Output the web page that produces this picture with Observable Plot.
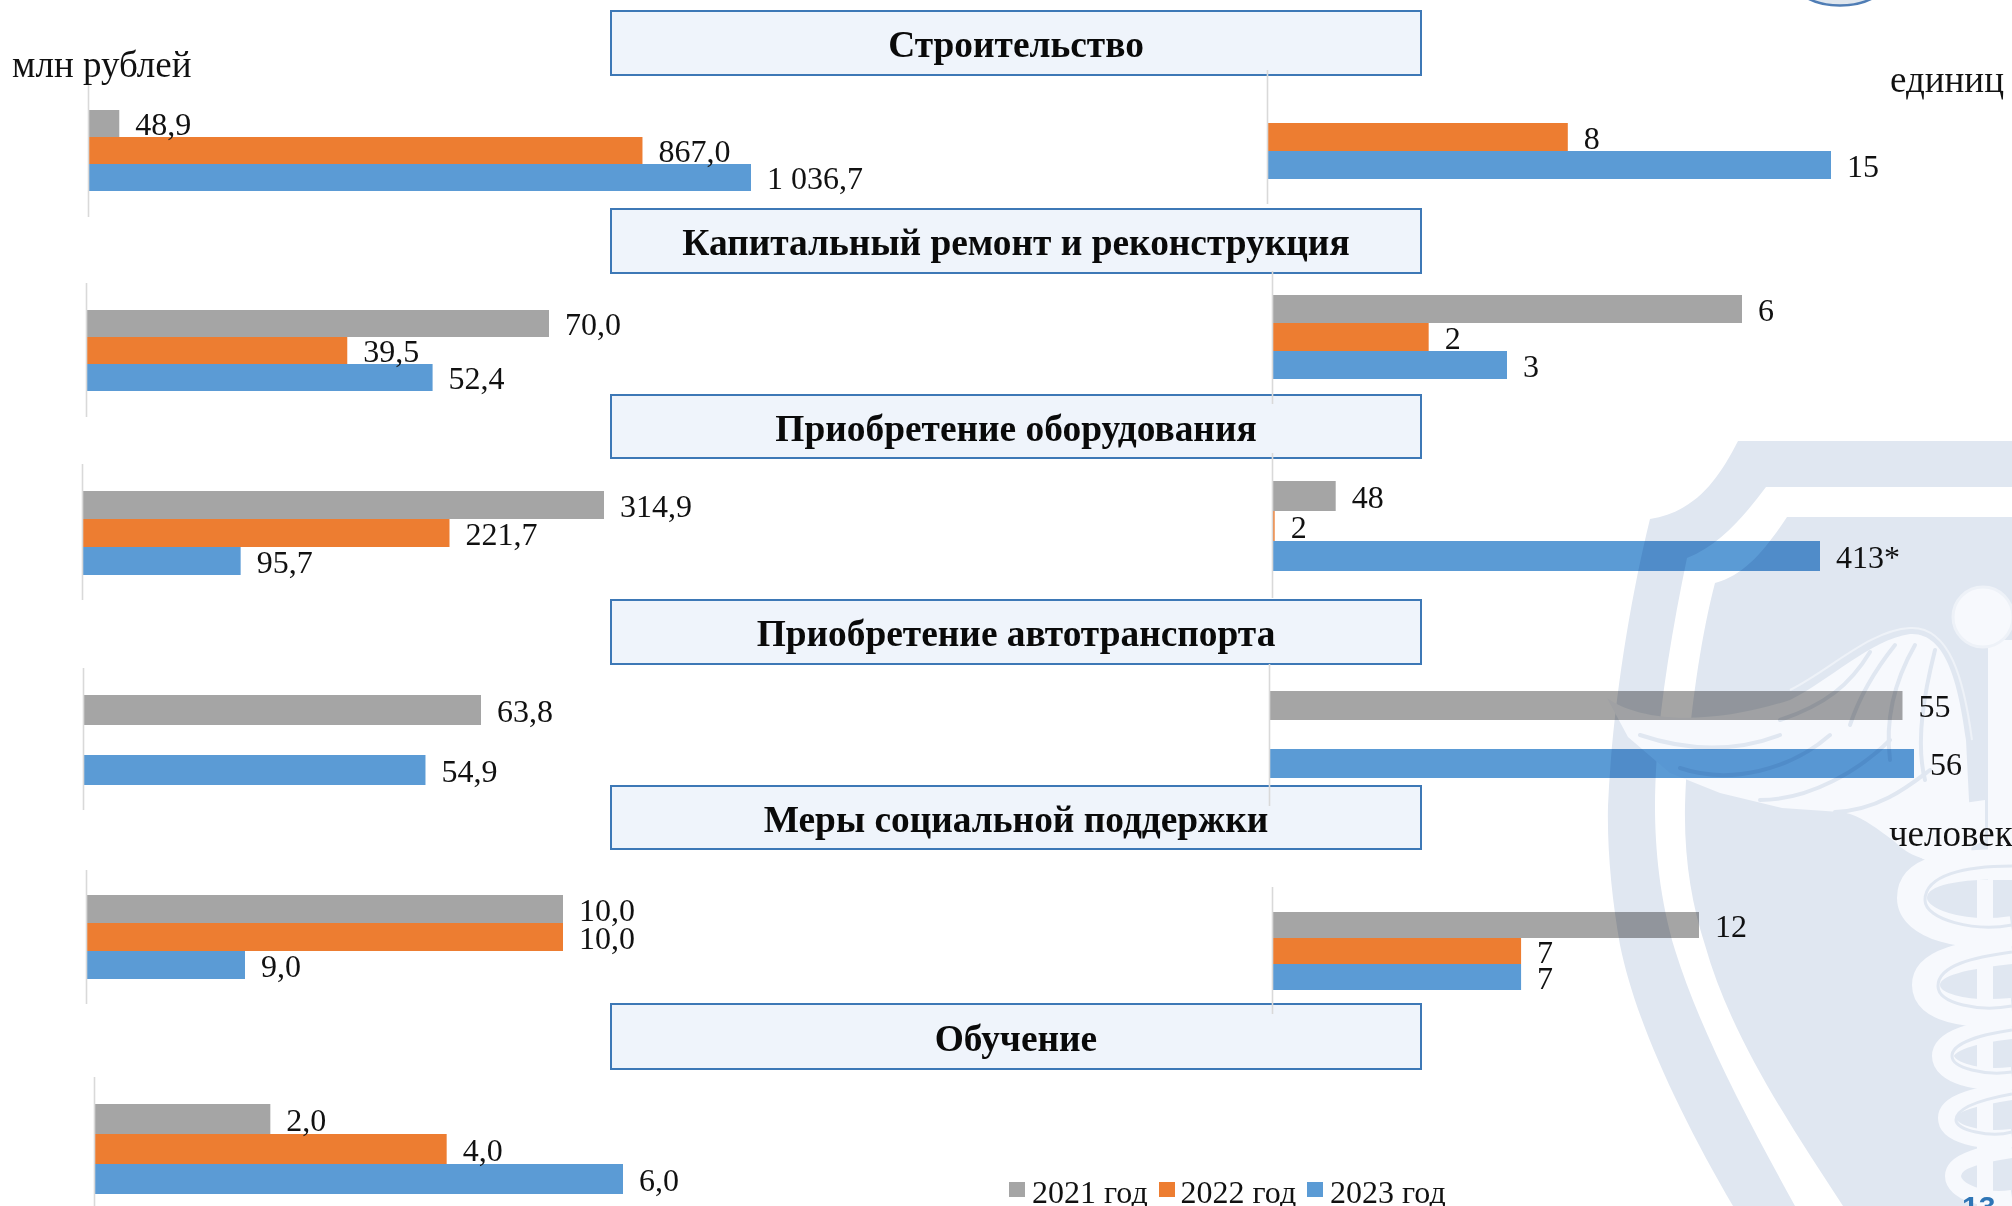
<!DOCTYPE html>
<html lang="ru">
<head>
<meta charset="utf-8">
<title>Инвестиции</title>
<script src="https://cdn.jsdelivr.net/npm/d3@7"></script>
<script src="https://cdn.jsdelivr.net/npm/@observablehq/plot@0.6"></script>
<style>
  html, body { margin: 0; padding: 0; background: #fff; }
  #page { position: relative; width: 2012px; height: 1206px; overflow: hidden; background: #fff;
          font-family: "Liberation Serif", serif; color: #111; }
  .box { position: absolute; left: 610px; width: 812px; box-sizing: border-box; background: #eff4fb;
         border: 2px solid #3d78b6; display: flex; align-items: center; justify-content: center;
         font-weight: 700; font-size: 37.4px; padding-top: 3px; white-space: nowrap; color: #0a0a0a; }
  .unit { position: absolute; font-size: 37px; line-height: 40px; white-space: nowrap; }
  .panel { position: absolute; }
  .legend { position: absolute; top: 1172px; left: 1009px; height: 40px; font-size: 32px; line-height: 40px; }
  .legend span { position: absolute; white-space: nowrap; top: 0; }
  .legend i { position: absolute; top: 10px; width: 16px; height: 15px; }
  #mark { position: absolute; left: 0; top: 0; mix-blend-mode: multiply; pointer-events: none; }
</style>
</head>
<body>
<div id="page"></div>
<script>
const categories = ["Строительство", "Капитальный ремонт и реконструкция", "Приобретение оборудования",
                    "Приобретение автотранспорта", "Меры социальной поддержки", "Обучение"];
const years = ["2021 год", "2022 год", "2023 год"];
const yearColors = ["#a5a5a5", "#ed7d31", "#5b9bd5"];

// млн рублей
const rublesStroitelstvo = [48.9, 867.0, 1036.7];
const rublesRemont = [70.0, 39.5, 52.4];
const rublesOborudovanie = [314.9, 221.7, 95.7];
const rublesAvto = [63.8, null, 54.9];
const rublesPodderzhka = [10.0, 10.0, 9.0];
const rublesObuchenie = [2.0, 4.0, 6.0];

// единиц / человек
const unitsStroitelstvo = [null, 8, 15];
const unitsRemont = [6, 2, 3];
const unitsOborudovanie = [48, 2, 413];
const unitsAvto = [55, null, 56];
const unitsPodderzhka = [12, 7, 7];

const footnoted = [413];

// layout of the small charts on the page (not data)
const boxes = [[10, 76], [208, 274], [394, 459], [599, 665], [785, 850], [1003, 1070]];
const leftPanels = [
  {values: rublesStroitelstvo, base: 88, axis: [85, 217], bars: [109, 192], length: 663, start: 0},
  {values: rublesRemont, base: 86, axis: [283, 417], bars: [309, 392], length: 463, start: 0},
  {values: rublesOborudovanie, base: 82, axis: [464, 600], bars: [490, 576], length: 522, start: 0},
  {values: rublesAvto, base: 83, axis: [668, 810], bars: [695, 785], length: 398, start: 0},
  {values: rublesPodderzhka, base: 86, axis: [870, 1004], bars: [895, 979], length: 477, start: 8.5},
  {values: rublesObuchenie, base: 94, axis: [1077, 1206], bars: [1104, 1194], length: 529, start: 0}
];
const rightPanels = [
  {values: unitsStroitelstvo, base: 1267, axis: [70, 204], bars: [95, 179], length: 564, start: 0},
  {values: unitsRemont, base: 1272, axis: [271, 404], bars: [295, 379], length: 470, start: 0},
  {values: unitsOborudovanie, base: 1272, axis: [453, 598], bars: [480, 571], length: 548, start: 0},
  {values: unitsAvto, base: 1269, axis: [664, 806], bars: [690, 779], length: 645, start: 0},
  {values: unitsPodderzhka, base: 1272, axis: [887, 1014], bars: [911, 990], length: 427, start: 0}
];

const page = document.getElementById("page");

categories.forEach((name, i) => {
  const d = document.createElement("div");
  d.className = "box";
  d.style.top = boxes[i][0] + "px";
  d.style.height = (boxes[i][1] - boxes[i][0]) + "px";
  d.textContent = name;
  page.appendChild(d);
});

const fmtRub = v => d3.format(",.1f")(v).replace(/,/g, " ").replace(".", ",");
const fmtUnit = v => String(v) + (footnoted.includes(v) ? "*" : "");

function panel(cfg, fmt) {
  const rows = years.map((year, i) => ({year, value: cfg.values[i]})).filter(r => r.value != null);
  const max = d3.max(rows, r => r.value);
  const room = 170, left = 2;
  const chart = Plot.plot({
    width: left + cfg.length + room,
    height: cfg.axis[1] - cfg.axis[0],
    margin: 0,
    style: {background: "transparent", overflow: "visible", fontFamily: '"Liberation Serif", serif', color: "#111"},
    x: {domain: [cfg.start, max], range: [left, left + cfg.length], axis: null},
    y: {domain: years, range: [cfg.bars[0] - cfg.axis[0], cfg.bars[1] - cfg.axis[0]], padding: 0, axis: null},
    color: {domain: years, range: yearColors},
    marks: [
      Plot.barX(rows, {x1: cfg.start, x2: "value", y: "year", fill: "year"}),
      Plot.ruleX([cfg.start], {stroke: "#d9d9d9", strokeWidth: 1.6}),
      Plot.text(rows, {x: "value", y: "year", text: r => fmt(r.value), textAnchor: "start", dx: 15.5, dy: 1, fontSize: 32, fill: "#111"})
    ]
  });
  chart.classList.add("panel");
  chart.style.left = (cfg.base - left) + "px";
  chart.style.top = cfg.axis[0] + "px";
  chart.style.maxWidth = "none";
  page.appendChild(chart);
}
leftPanels.forEach(p => panel(p, fmtRub));
rightPanels.forEach(p => panel(p, fmtUnit));

[["млн рублей", 12, 45], ["единиц", 1890, 60], ["человек", 1889, 814]].forEach(([t, x, y]) => {
  const d = document.createElement("div");
  d.className = "unit";
  d.textContent = t;
  d.style.left = x + "px";
  d.style.top = y + "px";
  page.appendChild(d);
});

const legendSwatchX = [0, 150, 298], legendTextX = [23, 171.5, 321];
const legend = document.createElement("div");
legend.className = "legend";
years.forEach((y, i) => {
  const sw = document.createElement("i");
  sw.style.left = legendSwatchX[i] + "px";
  sw.style.background = yearColors[i];
  const tx = document.createElement("span");
  tx.style.left = legendTextX[i] + "px";
  tx.textContent = y;
  legend.append(sw, tx);
});
page.appendChild(legend);

// background emblem, multiplied over the bars as in the slide
const emblem = `
<svg id="mark" xmlns="http://www.w3.org/2000/svg" width="2012" height="1206" viewBox="0 0 2012 1206">
  <path fill="#e0e7f1" d="M2012,441 L1738,441 C1718,480 1695,512 1650,519 C1630,600 1612,710 1608,806 C1607,850 1612,900 1620,945 C1635,1020 1680,1115 1733,1206 L1795,1206 C1745,1115 1700,1030 1675,950 C1660,900 1655,850 1655,806 C1655,730 1670,640 1687,558 C1720,545 1745,515 1766,487 L2012,487 Z"/>
  <path fill="#e0e7f1" d="M2012,517 L1787,517 C1765,550 1745,575 1715,583 C1700,640 1687,730 1685,806 C1684,860 1692,905 1705,945 C1730,1035 1790,1125 1843,1206 L2012,1206 Z"/>
  <g fill="#f7f9fd" stroke="none">
    <rect x="1988" y="640" width="24" height="240"/>
    <rect x="1977" y="880" width="16" height="326"/>
    <path d="M1607,698 C1640,722 1710,726 1790,700 C1830,680 1870,640 1910,634 C1945,632 1958,680 1966,740 L1972,860 L1930,862 C1890,845 1870,815 1840,812 L1782,808 L1720,793 L1670,773 L1628,737 Z"/>
    <path d="M1880,815 C1890,845 1910,860 1945,862 L1985,840 L1985,800 Z"/>
  </g>
  <g fill="none" stroke="#f7f9fd" stroke-linecap="butt">
    <path stroke-width="30" d="M2012,864 C1950,864 1912,870 1912,898 C1912,925 1965,938 2012,931"/>
    <path stroke-width="28" d="M2012,950 C1965,955 1926,962 1926,985 C1926,1008 1965,1016 2012,1012"/>
    <path stroke-width="22" d="M2012,1028 C1975,1032 1943,1040 1943,1056 C1943,1072 1975,1082 2012,1078"/>
    <path stroke-width="18" d="M2012,1091 C1980,1096 1947,1102 1947,1118 C1947,1134 1980,1142 2012,1138"/>
    <path stroke-width="16" d="M2012,1150 C1985,1154 1953,1160 1953,1176 C1953,1192 1985,1202 2012,1198"/>
  </g>
  <circle cx="1983" cy="617" r="30" fill="#f7f9fd" stroke="#eef2f8" stroke-width="3"/>
  <g fill="none" stroke="#e0e7f1" stroke-width="3">
    <path d="M2012,866 C1965,866 1925,875 1925,900 C1925,920 1975,932 2012,925"/>
    <path d="M2012,952 C1975,957 1938,965 1938,986 C1938,1004 1980,1012 2012,1006"/>
    <path d="M2012,1030 C1985,1034 1952,1042 1952,1056 C1952,1068 1985,1076 2012,1072"/>
    <path d="M2012,1094 C1990,1098 1956,1106 1956,1120 C1956,1130 1990,1138 2012,1132"/>
  </g>
  <g fill="none" stroke="#e0e7f1" stroke-width="4" stroke-linecap="round">
    <path d="M1780,720 C1825,705 1850,685 1870,652"/>
    <path d="M1850,725 C1860,695 1875,670 1895,645"/>
    <path d="M1890,760 C1885,720 1895,680 1915,645"/>
    <path d="M1925,780 C1915,740 1925,690 1935,650"/>
    <path d="M1680,768 C1730,785 1790,770 1830,735"/>
    <path d="M1760,800 C1810,800 1860,770 1890,740"/>
    <path d="M1835,812 C1880,810 1910,785 1930,770"/>
    <path d="M1640,735 C1690,752 1735,752 1780,735"/>
  </g>
  <path fill="none" stroke="#eef2f8" stroke-width="2" d="M1790,690 C1830,670 1870,630 1910,628 C1950,626 1964,680 1972,740"/>
  <path fill="#dfe6ee" stroke="#4f7db5" stroke-width="2.5" d="M1807,-2 C1825,8 1855,8 1873,-2 Z"/>
</svg>`;
page.insertAdjacentHTML("beforeend", emblem);

const pageNo = document.createElement("div");
pageNo.textContent = "13";
pageNo.style.cssText = 'position:absolute;left:1962px;top:1189px;font:700 30px/36px "Liberation Sans",sans-serif;color:#2e75b6;';
page.appendChild(pageNo);
</script>
</body>
</html>
